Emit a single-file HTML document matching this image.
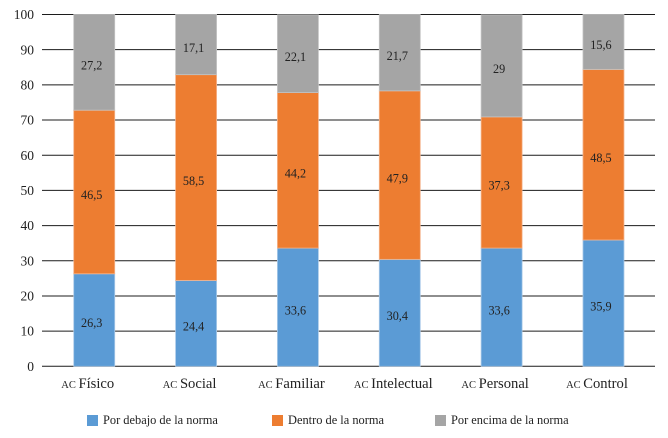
<!DOCTYPE html>
<html>
<head>
<meta charset="utf-8">
<style>
html,body{margin:0;padding:0;background:#fff;}
svg{display:block;font-family:"Liberation Serif",serif;fill:#222;}
</style>
</head>
<body>
<svg id="chart" width="668" height="438" viewBox="0 0 668 438" xmlns="http://www.w3.org/2000/svg"></svg>
<script>
const categories = ['Físico', 'Social', 'Familiar', 'Intelectual', 'Personal', 'Control'];
const below = [26.3, 24.4, 33.6, 30.4, 33.6, 35.9];
const within = [46.5, 58.5, 44.2, 47.9, 37.3, 48.5];
const above = [27.2, 17.1, 22.1, 21.7, 29, 15.6];
const yTicks = [0, 10, 20, 30, 40, 50, 60, 70, 80, 90, 100];
const seriesNames = ['Por debajo de la norma', 'Dentro de la norma', 'Por encima de la norma'];

const NS = 'http://www.w3.org/2000/svg';
const svg = document.getElementById('chart');
const left = 42, right = 655, y0 = 366.3, y100 = 14.5, barW = 41;
const bandLeft = 43.3, bandRight = 654.4;
const colors = ['#5b9bd5', '#ed7d31', '#a5a5a5'];
const edges = ['#a9c9e8', '#f5b48c', '#c4c4c4'];
const series = [below, within, above];
const yScale = v => y0 + (y100 - y0) * v / 100;
const xCenter = i => bandLeft + (bandRight - bandLeft) * (i + 0.5) / categories.length;

function make(tag, attrs, parent) {
  const el = document.createElementNS(NS, tag);
  for (const k in attrs) el.setAttribute(k, attrs[k]);
  (parent || svg).appendChild(el);
  return el;
}
function fmt(v) { return String(v).replace('.', ','); }

yTicks.forEach(t => {
  const line = make('line', {x1: left, x2: right, y1: yScale(t), y2: yScale(t), stroke: '#1c1c1c', 'stroke-width': 1});
  
  
  const label = make('text', {x: 34, y: yScale(t) + 4.6, 'text-anchor': 'end', 'font-size': 13.5});
  
  
  label.textContent = t;
});

categories.forEach((cat, i) => {
  let acc = 0;
  series.forEach((s, j) => {
    const v = s[i];
    const top = yScale(acc + v), bottom = yScale(acc);
    const x = xCenter(i) - barW / 2;
    const bar = make('rect', {x: x, y: top, width: barW, height: bottom - top, fill: colors[j], stroke: edges[j], 'stroke-width': 0.8});
    
    
    const lab = make('text', {x: xCenter(i) - 2.5, y: (top + bottom) / 2 + 7.2, 'text-anchor': 'middle', 'font-size': 12.2});
    
    
    lab.textContent = fmt(v);
    acc += v;
  });
  const cl = make('text', {x: xCenter(i) - 6.5, y: 388, 'text-anchor': 'middle', 'font-size': 14.6});
  
  
  const small = make('tspan', {'font-size': 10.5}, cl);
  small.textContent = 'AC ';
  const rest = make('tspan', {}, cl);
  rest.textContent = cat;
});

const legendX = [87, 272, 435];
seriesNames.forEach((name, j) => {
  const sw = make('rect', {x: legendX[j], y: 415, width: 11, height: 11, fill: colors[j]});
  
  
  const tx = make('text', {x: legendX[j] + 16, y: 424, 'font-size': 12.4});
  
  
  tx.textContent = name;
});
</script>
</body>
</html>
